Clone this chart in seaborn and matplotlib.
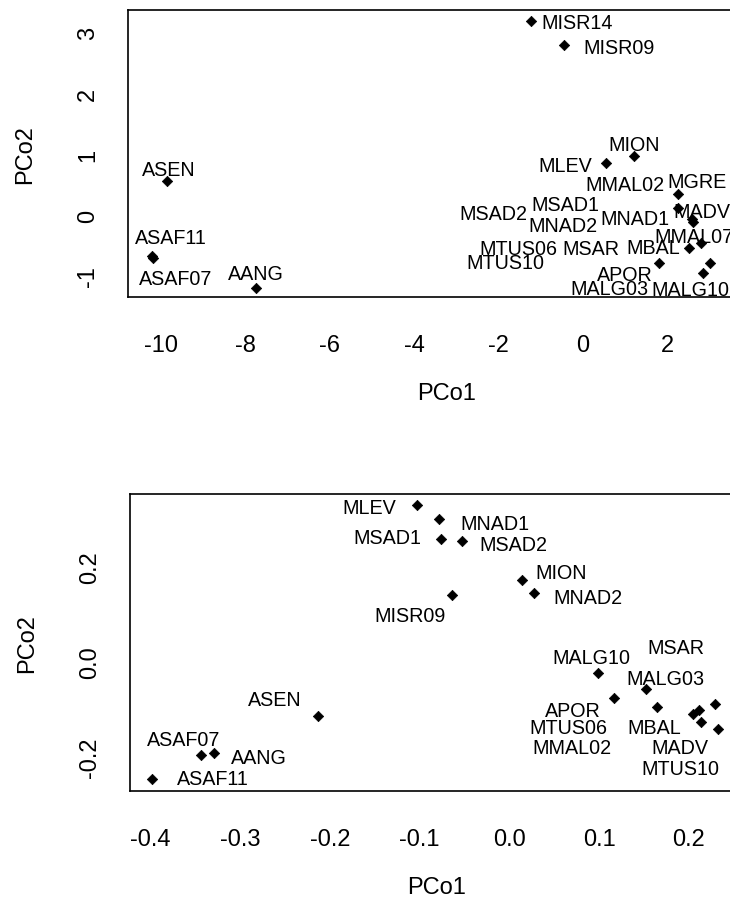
import matplotlib
matplotlib.use("Agg")
import matplotlib.pyplot as plt
import seaborn as sns
import pandas as pd

# ---- oben: PCoA auf allen Proben ----
namen_oben = ["ASEN", "ASAF11", "ASAF07", "AANG", "MISR14", "MISR09", "MION", "MLEV",
              "MGRE", "MADV", "MNAD1", "MNAD2", "MMAL07", "MBAL", "APOR", "MALG10",
              "MALG03", "MMAL02", "MSAD1", "MSAD2", "MTUS06", "MSAR", "MTUS10"]
pco1_oben = [-9.85, -10.22, -10.20, -7.75, -1.23, -0.45, 1.21, 0.54,
             2.26, 2.26, 2.58, 2.61, 2.79, 2.51, 1.81, 3.01,
             2.84, 3.70, 3.75, 3.66, 3.72, 3.68, 3.78]
pco2_oben = [0.55, -0.68, -0.70, -1.19, 3.18, 2.78, 0.97, 0.85,
             0.34, 0.115, -0.07, -0.12, -0.46, -0.54, -0.79, -0.79,
             -0.95, 0.40, 0.05, 0.00, -0.55, -0.50, -0.78]

# ---- unten: PCoA ohne MISR14/MGRE/MMAL07 ----
namen_unten = ["MLEV", "MNAD1", "MSAD1", "MSAD2", "MION", "MNAD2", "MISR09", "ASEN",
               "ASAF07", "AANG", "ASAF11", "MALG10", "MALG03", "APOR", "MSAR", "MBAL",
               "MTUS06", "MMAL02", "MADV", "MTUS10"]
pco1_unten = [-0.1032, -0.0784, -0.0765, -0.0531, 0.0138, 0.0275, -0.0635, -0.2129,
              -0.3440, -0.3289, -0.3987, 0.0985, 0.1524, 0.1167, 0.2293, 0.1643,
              0.2051, 0.2118, 0.2134, 0.2330]
pco2_unten = [0.330, 0.3007, 0.2586, 0.2528, 0.1707, 0.1441, 0.1391, -0.1159,
              -0.1981, -0.1924, -0.2486, -0.0238, -0.0575, -0.0765, -0.0891, -0.0961,
              -0.1102, -0.1032, -0.1277, -0.1418]

# Beschriftungs-Versatz in Pixel (Label-Mitte relativ zum Punkt)
versatz_oben = {"ASEN": (1, 14), "ASAF11": (19, 21), "ASAF07": (23, -19), "AANG": (0, 16),
                "MISR14": (46, 0), "MISR09": (55, 0), "MION": (0, 13), "MLEV": (-40, 0),
                "MGRE": (19, 15), "MADV": (24, -2), "MNAD1": (-57, 3), "MNAD2": (-130, -1),
                "MMAL07": (-7, 9), "MBAL": (-36, 2), "APOR": (-34, -9), "MALG10": (-20, -24),
                "MALG03": (-93, -14), "MMAL02": (-114, 8), "MSAD1": (-176, 9),
                "MSAD2": (-244, 3), "MTUS06": (-221, 2), "MSAR": (-147, -1),
                "MTUS10": (-237, 2)}
versatz_unten = {"MLEV": (-48, -1), "MNAD1": (56, -3), "MSAD1": (-53, 3), "MSAD2": (52, -1),
                 "MION": (39, 10), "MNAD2": (54, -2), "MISR09": (-42, -18), "ASEN": (-44, 19),
                 "ASAF07": (-17, 18), "AANG": (44, -3), "ASAF11": (61, 3), "MALG10": (-6, 17),
                 "MALG03": (19, 12), "APOR": (-41, -11), "MSAR": (-39, 58), "MBAL": (-3, -18),
                 "MTUS06": (-125, -12), "MMAL02": (-127, -35), "MADV": (-21, -23),
                 "MTUS10": (-38, -38)}

df_oben = pd.DataFrame({"name": namen_oben, "PCo1": pco1_oben, "PCo2": pco2_oben})
df_unten = pd.DataFrame({"name": namen_unten, "PCo1": pco1_unten, "PCo2": pco2_unten})

sns.set_theme(style="white")
plt.rcParams["font.family"] = ["Liberation Sans", "DejaVu Sans"]

W, H = 730, 904
fig = plt.figure(figsize=(W / 100, H / 100), dpi=100)
ax1 = fig.add_axes([128 / W, (H - 298) / H, (766 - 128) / W, (298 - 11) / H])
ax2 = fig.add_axes([130 / W, (H - 792) / H, (743 - 130) / W, (792 - 495) / H])


def zeichne(ax, df, versatz):
    sns.scatterplot(data=df, x="PCo1", y="PCo2", marker="D", color="black",
                    edgecolor="black", s=28, linewidth=0.5, ax=ax, zorder=3)
    for _, r in df.iterrows():
        ax.annotate(r["name"], (r["PCo1"], r["PCo2"]), xytext=versatz[r["name"]],
                    textcoords="offset pixels", ha="center", va="center_baseline",
                    fontsize=14.2, color="black", annotation_clip=False)
    for sp in ax.spines.values():
        sp.set_color("black")
        sp.set_linewidth(1.2)
    ax.tick_params(axis="both", direction="out", length=11.5, width=1.1,
                   color="black", labelcolor="black", labelsize=17)
    ax.tick_params(axis="x", pad=15)
    ax.tick_params(axis="y", pad=9.5)
    ax.set_xlabel("PCo1", fontsize=17, labelpad=19, color="black")
    ax.set_ylabel("PCo2", fontsize=17, labelpad=29, color="black")


zeichne(ax1, df_oben, versatz_oben)
ax1.set_xlim(-10.782, 4.34)
ax1.set_ylim(-1.345, 3.36)
ax1.set_xticks([-10, -8, -6, -4, -2, 0, 2])
ax1.set_yticks([-1, 0, 1, 2, 3])
ax1.set_xticklabels(["-10", "-8", "-6", "-4", "-2", "0", "2"])
ax1.set_yticklabels(["-1", "0", "1", "2", "3"])

zeichne(ax2, df_unten, versatz_unten)
ax2.set_xlim(-0.423, 0.2604)
ax2.set_ylim(-0.273, 0.3527)
ax2.set_xticks([-0.4, -0.3, -0.2, -0.1, 0.0, 0.1, 0.2])
ax2.set_xticklabels(["-0.4", "-0.3", "-0.2", "-0.1", "0.0", "0.1", "0.2"])
ax2.set_yticks([-0.2, -0.1, 0.0, 0.1, 0.2, 0.3])
ax2.set_yticklabels(["-0.2", "", "0.0", "", "0.2", ""])

for ax in (ax1, ax2):
    for lab in ax.get_yticklabels():
        lab.set_rotation(90)
        lab.set_va("center")

fig.savefig("out.png", dpi=100)
